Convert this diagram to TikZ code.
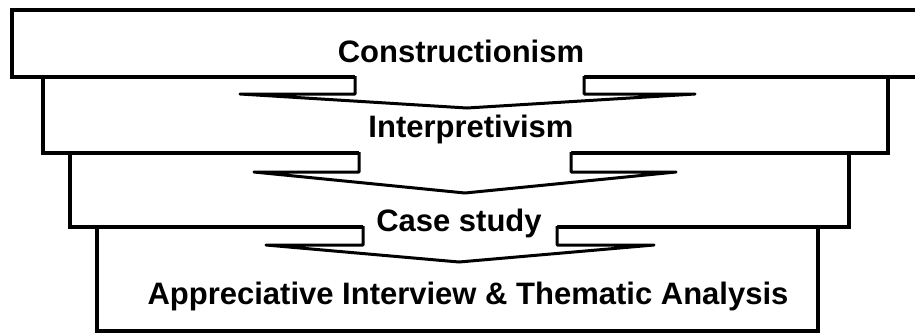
\documentclass[tikz,border=0pt]{standalone}
\usepackage{fontspec}
\setmainfont{Liberation Sans}
\begin{document}
\begin{tikzpicture}[x=1pt,y=-1pt,
  layer/.style={draw=black, fill=white, line width=3.6pt},
  funnel/.style={draw=black, line width=3pt, line join=round},
  stem/.style={fill=white},
  label/.style={font=\fontsize{31}{36}\selectfont\bfseries, inner sep=0pt, anchor=base}]
\useasboundingbox (0,0) rectangle (915,333);
\clip (0,0) rectangle (915,333);

% stacked layers, widest on top
\draw[layer] (12,10) rectangle (940,77);
\draw[layer] (43,77) rectangle (888,153);
\draw[layer] (70,153) rectangle (849,227);
\draw[layer] (97,227) rectangle (818,331);

% funnel arrow from layer 1 into layer 2
\fill[stem] (355,73) -- (355,94) -- (240,94) -- (467,108) -- (695,94) -- (584,94) -- (584,73) -- cycle;
\draw[funnel] (355,76) -- (355,94) -- (240,94) -- (467,108) -- (695,94) -- (584,94) -- (584,76);

% funnel arrow from layer 2 into layer 3
\fill[stem] (359,149) -- (359,172) -- (254,172) -- (465,193) -- (676,172) -- (571,172) -- (571,149) -- cycle;
\draw[funnel] (359,152) -- (359,172) -- (254,172) -- (465,193) -- (676,172) -- (571,172) -- (571,152);

% funnel arrow from layer 3 into layer 4
\fill[stem] (363,223) -- (363,245) -- (266,245) -- (459,262) -- (654,245) -- (557,245) -- (557,223) -- cycle;
\draw[funnel] (363,226) -- (363,245) -- (266,245) -- (459,262) -- (654,245) -- (557,245) -- (557,226);

% layer titles
\node[label] (t1) at (461,62) {Constructionism};
\node[label] (t2) at (471,137) {Interpretivism};
\node[label] (t3) at (459,231) {Case study};
\node[label] (t4) at (468,304) {Appreciative Interview \& Thematic Analysis};
\end{tikzpicture}
\end{document}
